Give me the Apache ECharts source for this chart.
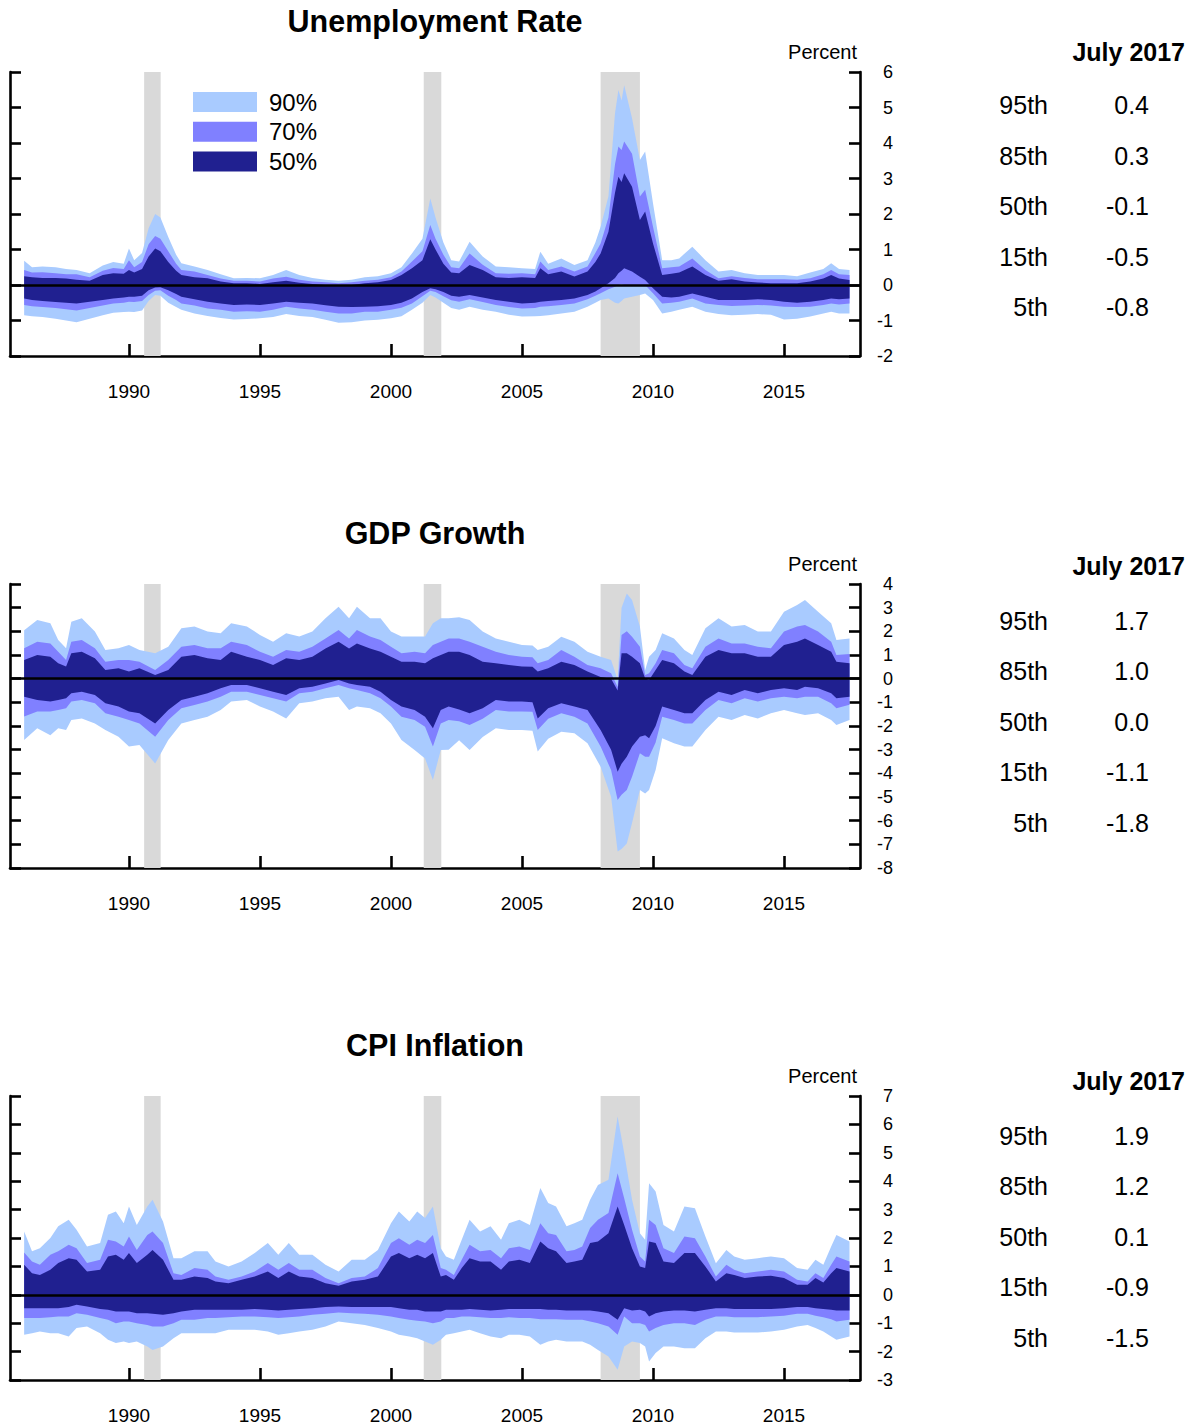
<!DOCTYPE html>
<html><head><meta charset="utf-8">
<script src="https://cdn.jsdelivr.net/npm/echarts@6/dist/echarts.min.js"></script>
<style>html,body{margin:0;padding:0;background:#fff}#c{width:1197px;height:1427px}</style>
</head><body><div id="c"></div>
<script>
const FONT = '"Liberation Sans", Arial, Helvetica, sans-serif';
const recessions = [[1990.58, 1991.21], [2001.25, 2001.92], [2008.0, 2009.5]];
const yearTicks = [1990, 1995, 2000, 2005, 2010, 2015];
const bandNames = ['90%', '70%', '50%'];
const panelTitles = ['Unemployment Rate', 'GDP Growth', 'CPI Inflation'];
const tableHeader = 'July 2017';
const pctLabels = ['95th', '85th', '50th', '15th', '5th'];
const unempTable = ['0.4', '0.3', '-0.1', '-0.5', '-0.8'];
const gdpTable = ['1.7', '1.0', '0.0', '-1.1', '-1.8'];
const cpiTable = ['1.9', '1.2', '0.1', '-0.9', '-1.5'];
const yRanges = [[-2, 6], [-8, 4], [-3, 7]];

// Unemployment rate percentiles
const unempYears = [1986.0,1986.3,1986.7,1987.2,1987.6,1988.0,1988.5,1989.0,1989.4,1989.8,1990.0,1990.2,1990.5,1990.75,1991.0,1991.2,1991.5,1991.8,1992.0,1992.5,1993.0,1993.5,1994.0,1994.5,1995.0,1995.5,1996.0,1996.5,1997.0,1997.5,1998.0,1998.5,1999.0,1999.5,2000.0,2000.4,2000.8,2001.2,2001.5,2001.7,2002.0,2002.3,2002.6,2003.0,2003.5,2004.0,2004.5,2005.0,2005.5,2005.7,2006.0,2006.5,2007.0,2007.5,2007.8,2008.0,2008.3,2008.55,2008.68,2008.8,2008.9,2009.2,2009.5,2009.7,2010.0,2010.35,2010.7,2011.0,2011.5,2012.0,2012.5,2013.0,2013.5,2014.0,2014.5,2015.0,2015.5,2016.0,2016.5,2016.8,2017.1,2017.5];
const unempP95 = [0.68,0.5,0.52,0.5,0.45,0.42,0.33,0.55,0.65,0.6,1.03,0.7,0.9,1.6,2.0,1.9,1.35,0.85,0.61,0.52,0.42,0.3,0.19,0.2,0.19,0.28,0.42,0.28,0.2,0.15,0.12,0.15,0.22,0.25,0.33,0.5,0.89,1.3,2.44,1.9,1.2,0.7,0.66,1.22,0.8,0.52,0.5,0.47,0.45,0.94,0.6,0.75,0.56,0.7,1.2,1.64,2.5,4.84,5.49,5.2,5.63,4.7,3.52,3.76,2.3,0.7,0.7,0.75,1.08,0.7,0.38,0.42,0.33,0.28,0.28,0.28,0.25,0.35,0.45,0.61,0.45,0.42];
const unempP85 = [0.42,0.35,0.36,0.33,0.3,0.3,0.22,0.4,0.48,0.45,0.7,0.5,0.65,1.15,1.38,1.3,0.95,0.6,0.42,0.38,0.28,0.18,0.12,0.12,0.1,0.18,0.23,0.15,0.1,0.08,0.05,0.08,0.12,0.15,0.22,0.38,0.66,0.95,1.69,1.3,0.85,0.5,0.47,0.89,0.57,0.33,0.32,0.33,0.3,0.66,0.42,0.52,0.38,0.52,0.9,1.17,1.9,3.4,3.9,3.8,4.04,3.7,2.49,2.68,1.64,0.47,0.5,0.52,0.75,0.42,0.19,0.25,0.2,0.16,0.16,0.16,0.15,0.19,0.3,0.42,0.3,0.28];
const unempP75 = [0.25,0.22,0.2,0.2,0.18,0.15,0.12,0.28,0.33,0.32,0.42,0.35,0.45,0.8,1.03,0.95,0.65,0.4,0.28,0.22,0.19,0.1,0.05,0.05,0.03,0.08,0.12,0.06,0.03,0.0,-0.03,0.0,0.05,0.08,0.14,0.28,0.47,0.7,1.29,1.0,0.6,0.35,0.33,0.56,0.42,0.22,0.2,0.22,0.2,0.47,0.3,0.38,0.24,0.38,0.65,0.89,1.5,2.6,3.05,2.9,3.15,2.77,1.83,2.07,1.17,0.28,0.32,0.35,0.52,0.28,0.12,0.16,0.1,0.07,0.05,0.05,0.05,0.1,0.18,0.28,0.18,0.14];
const unempP25 = [-0.38,-0.42,-0.45,-0.48,-0.5,-0.52,-0.47,-0.42,-0.38,-0.35,-0.33,-0.33,-0.3,-0.15,-0.07,-0.06,-0.15,-0.25,-0.33,-0.4,-0.47,-0.52,-0.56,-0.55,-0.56,-0.52,-0.47,-0.5,-0.52,-0.57,-0.61,-0.62,-0.61,-0.6,-0.56,-0.5,-0.38,-0.2,-0.09,-0.12,-0.2,-0.3,-0.33,-0.28,-0.35,-0.42,-0.47,-0.52,-0.5,-0.47,-0.45,-0.42,-0.38,-0.28,-0.18,-0.09,0.05,0.2,0.33,0.4,0.47,0.38,0.23,0.14,-0.09,-0.33,-0.35,-0.33,-0.24,-0.33,-0.42,-0.42,-0.42,-0.4,-0.42,-0.47,-0.5,-0.47,-0.42,-0.38,-0.4,-0.38];
const unempP15 = [-0.56,-0.6,-0.62,-0.65,-0.68,-0.72,-0.65,-0.58,-0.52,-0.5,-0.47,-0.48,-0.45,-0.28,-0.16,-0.15,-0.3,-0.42,-0.52,-0.58,-0.66,-0.7,-0.75,-0.74,-0.75,-0.7,-0.61,-0.66,-0.7,-0.75,-0.8,-0.8,-0.75,-0.75,-0.7,-0.64,-0.52,-0.32,-0.16,-0.2,-0.32,-0.43,-0.47,-0.4,-0.48,-0.56,-0.62,-0.66,-0.65,-0.61,-0.6,-0.56,-0.52,-0.4,-0.3,-0.23,-0.12,-0.05,0.0,0.02,0.0,-0.03,0.0,0.0,-0.23,-0.52,-0.5,-0.47,-0.38,-0.52,-0.56,-0.59,-0.58,-0.56,-0.58,-0.61,-0.62,-0.61,-0.56,-0.52,-0.55,-0.52];
const unempP5 = [-0.85,-0.88,-0.9,-0.95,-1.0,-1.05,-0.95,-0.85,-0.78,-0.76,-0.75,-0.76,-0.72,-0.45,-0.28,-0.3,-0.5,-0.62,-0.7,-0.8,-0.87,-0.93,-0.97,-0.96,-0.94,-0.9,-0.82,-0.87,-0.9,-0.98,-1.06,-1.05,-1.0,-0.98,-0.94,-0.88,-0.7,-0.5,-0.28,-0.35,-0.5,-0.65,-0.7,-0.61,-0.7,-0.75,-0.84,-0.89,-0.88,-0.87,-0.85,-0.8,-0.75,-0.61,-0.5,-0.42,-0.38,-0.5,-0.52,-0.45,-0.38,-0.33,-0.28,-0.24,-0.42,-0.8,-0.75,-0.7,-0.61,-0.75,-0.82,-0.85,-0.84,-0.82,-0.84,-0.97,-0.95,-0.89,-0.8,-0.75,-0.8,-0.8];

// GDP growth percentiles
const gdpYears = [1986.0,1986.5,1987.0,1987.3,1987.6,1987.8,1988.2,1988.7,1989.1,1989.6,1990.0,1990.4,1991.0,1991.5,1992.0,1992.5,1993.0,1993.5,1993.9,1994.5,1995.0,1995.5,1996.0,1996.5,1997.0,1997.5,1998.0,1998.4,1998.7,1999.2,1999.6,2000.0,2000.4,2000.9,2001.3,2001.6,2001.9,2002.2,2002.6,2003.0,2003.5,2004.0,2004.5,2005.0,2005.4,2005.6,2006.0,2006.5,2007.0,2007.5,2008.0,2008.4,2008.65,2008.8,2009.0,2009.2,2009.5,2009.7,2009.85,2010.1,2010.35,2010.8,2011.2,2011.5,2012.0,2012.5,2013.0,2013.5,2014.0,2014.5,2015.0,2015.5,2015.8,2016.3,2016.8,2017.0,2017.5];
const gdpP95 = [2.05,2.48,2.34,1.63,1.28,2.41,2.55,1.99,1.21,1.28,1.42,1.21,1.07,1.35,2.13,2.2,1.99,1.92,2.34,2.2,1.85,1.56,1.92,1.78,1.99,2.55,3.04,2.55,3.04,2.55,2.55,1.99,1.78,1.78,1.78,2.34,2.55,2.55,2.6,2.48,1.99,1.7,1.56,1.42,1.4,1.21,1.35,1.77,1.56,1.14,0.93,0.79,-0.05,3.0,3.6,3.32,2.2,0.37,0.93,1.21,1.92,1.7,1.21,1.0,2.13,2.55,2.2,2.27,1.99,1.99,2.83,3.11,3.32,2.83,2.34,1.63,1.7];
const gdpP85 = [1.28,1.56,1.49,1.14,0.79,1.56,1.63,1.28,0.72,0.79,0.79,0.72,0.37,0.79,1.35,1.42,1.28,1.28,1.56,1.42,1.14,0.93,1.21,1.14,1.35,1.7,2.06,1.7,2.06,1.78,1.63,1.35,1.07,1.14,1.07,1.42,1.56,1.7,1.7,1.56,1.35,1.14,1.0,0.93,0.9,0.65,0.79,1.21,0.93,0.58,0.44,0.23,-0.35,1.85,2.0,1.77,1.35,0.15,0.23,0.65,1.21,1.07,0.58,0.44,1.35,1.7,1.49,1.49,1.35,1.28,1.99,2.2,2.27,1.99,1.56,1.0,1.04];
const gdpP75 = [0.79,1.0,0.93,0.65,0.51,1.07,1.14,0.86,0.37,0.44,0.3,0.44,0.15,0.37,0.93,1.0,0.86,0.79,1.14,0.93,0.79,0.58,0.86,0.79,0.93,1.27,1.56,1.27,1.49,1.27,1.14,0.93,0.72,0.72,0.65,0.86,1.0,1.14,1.14,1.0,0.72,0.65,0.58,0.51,0.5,0.3,0.44,0.72,0.58,0.3,0.07,0.0,-0.5,1.07,1.07,0.93,0.65,0.01,-0.06,0.37,0.79,0.65,0.3,0.15,0.93,1.21,1.07,1.07,0.93,0.93,1.42,1.56,1.7,1.42,1.14,0.72,0.65];
const gdpP25 = [-0.76,-0.9,-0.97,-0.9,-0.83,-0.62,-0.55,-0.69,-1.04,-1.18,-1.39,-1.46,-1.89,-1.32,-0.9,-0.76,-0.62,-0.41,-0.27,-0.27,-0.41,-0.55,-0.69,-0.41,-0.34,-0.2,-0.06,-0.2,-0.27,-0.34,-0.55,-0.9,-1.18,-1.32,-1.61,-2.1,-1.32,-1.18,-1.3,-1.46,-1.25,-0.9,-0.97,-0.97,-1.0,-1.68,-1.25,-1.04,-1.18,-1.32,-2.17,-3.0,-3.93,-3.6,-3.3,-2.87,-2.45,-2.39,-2.52,-2.0,-1.18,-1.32,-1.46,-1.46,-0.9,-0.55,-0.69,-0.48,-0.62,-0.48,-0.41,-0.48,-0.34,-0.41,-0.62,-0.83,-0.76];
const gdpP15 = [-1.6,-1.39,-1.39,-1.32,-1.25,-0.97,-0.9,-1.04,-1.46,-1.61,-1.75,-1.89,-2.45,-1.75,-1.25,-1.11,-0.97,-0.76,-0.55,-0.55,-0.69,-0.83,-0.97,-0.62,-0.55,-0.41,-0.27,-0.41,-0.48,-0.62,-0.83,-1.18,-1.61,-1.75,-2.03,-2.87,-1.89,-1.75,-1.8,-1.96,-1.69,-1.32,-1.39,-1.39,-1.4,-2.17,-1.69,-1.46,-1.61,-1.89,-2.87,-3.86,-5.13,-4.9,-4.7,-4.14,-3.15,-3.3,-3.3,-2.7,-1.61,-1.75,-1.89,-1.89,-1.32,-0.9,-1.04,-0.83,-0.97,-0.83,-0.76,-0.83,-0.76,-0.76,-1.04,-1.25,-1.1];
const gdpP5 = [-2.59,-2.1,-2.39,-2.1,-2.17,-1.75,-1.68,-1.89,-2.17,-2.45,-2.87,-2.8,-3.58,-2.59,-1.89,-1.75,-1.61,-1.32,-0.97,-0.9,-1.18,-1.39,-1.68,-1.04,-0.97,-0.83,-0.76,-1.32,-1.18,-1.25,-1.46,-1.89,-2.59,-3.01,-3.37,-4.28,-3.01,-3.0,-2.6,-3.01,-2.46,-2.1,-2.17,-2.17,-2.2,-3.08,-2.54,-2.24,-2.31,-2.73,-3.72,-4.99,-7.3,-7.2,-6.96,-6.1,-4.7,-4.85,-4.7,-3.86,-2.52,-2.73,-2.87,-2.87,-2.17,-1.61,-1.75,-1.54,-1.68,-1.46,-1.32,-1.46,-1.54,-1.46,-1.75,-1.96,-1.75];

// CPI inflation percentiles
const cpiYears = [1986.0,1986.3,1986.6,1987.0,1987.3,1987.7,1988.0,1988.4,1988.9,1989.2,1989.5,1989.8,1990.0,1990.3,1990.7,1990.9,1991.3,1991.7,1992.0,1992.5,1993.0,1993.3,1993.8,1994.3,1994.8,1995.3,1995.7,1996.1,1996.5,1997.0,1997.5,1998.0,1998.5,1999.0,1999.5,2000.0,2000.3,2000.7,2001.0,2001.3,2001.6,2001.9,2002.1,2002.4,2002.7,2003.0,2003.4,2003.8,2004.2,2004.5,2004.9,2005.3,2005.7,2006.0,2006.3,2006.7,2007.0,2007.3,2007.6,2007.9,2008.3,2008.65,2008.9,2009.2,2009.5,2009.7,2009.85,2010.1,2010.4,2010.8,2011.2,2011.6,2012.0,2012.4,2012.8,2013.1,2013.5,2014.0,2014.5,2015.0,2015.5,2015.9,2016.2,2016.5,2016.8,2017.0,2017.5];
const cpiP95 = [2.23,1.53,1.64,2.0,2.41,2.64,2.29,1.7,1.82,2.82,2.93,2.52,3.11,2.46,3.11,3.35,2.58,1.29,1.29,1.53,1.53,1.17,1.0,1.17,1.47,1.82,1.41,1.82,1.41,1.41,1.06,0.82,1.23,1.23,1.58,2.52,2.93,2.58,2.93,2.7,3.11,1.64,1.35,1.23,1.94,2.64,2.23,2.41,1.94,2.52,2.64,2.46,3.76,3.23,3.11,2.41,2.52,2.64,3.35,3.87,4.05,6.28,4.99,3.35,2.17,1.94,3.93,3.64,2.46,2.23,3.11,3.05,2.05,1.11,1.58,1.35,1.23,1.29,1.35,1.29,0.94,0.88,1.23,1.06,1.7,2.11,1.88];
const cpiP85 = [1.49,1.17,1.06,1.41,1.53,1.76,1.64,1.12,1.23,1.94,1.88,1.7,2.05,1.58,2.11,2.23,1.82,0.76,0.7,0.94,0.88,0.64,0.53,0.64,0.82,1.12,0.88,1.12,0.88,0.88,0.59,0.41,0.59,0.64,0.94,1.82,1.99,1.76,1.94,1.82,2.11,0.94,0.88,0.7,1.23,1.76,1.53,1.58,1.29,1.64,1.7,1.58,2.52,2.17,2.11,1.53,1.58,1.7,2.35,2.64,2.88,4.28,3.4,2.29,1.35,1.17,2.64,2.46,1.64,1.47,2.05,1.99,1.35,0.64,1.06,0.88,0.76,0.82,0.88,0.82,0.53,0.47,0.76,0.59,1.06,1.35,1.17];
const cpiP75 = [1.06,0.76,0.7,0.88,1.12,1.29,1.23,0.82,0.88,1.35,1.41,1.23,1.47,1.12,1.41,1.58,1.23,0.53,0.53,0.64,0.59,0.47,0.41,0.53,0.64,0.82,0.59,0.82,0.64,0.59,0.41,0.32,0.47,0.53,0.64,1.35,1.47,1.29,1.41,1.29,1.47,0.64,0.7,0.53,0.94,1.29,1.17,1.17,0.88,1.17,1.23,1.12,1.88,1.64,1.53,1.12,1.17,1.23,1.82,1.88,2.17,3.11,2.46,1.64,1.0,0.94,1.88,1.82,1.17,1.12,1.47,1.47,1.0,0.47,0.76,0.7,0.59,0.64,0.67,0.59,0.35,0.35,0.59,0.43,0.76,0.94,0.82];
const cpiP25 = [-0.47,-0.47,-0.47,-0.47,-0.47,-0.43,-0.35,-0.41,-0.5,-0.53,-0.59,-0.59,-0.59,-0.65,-0.65,-0.67,-0.7,-0.65,-0.59,-0.53,-0.53,-0.53,-0.53,-0.53,-0.5,-0.53,-0.55,-0.53,-0.5,-0.47,-0.43,-0.41,-0.43,-0.43,-0.43,-0.43,-0.47,-0.53,-0.53,-0.59,-0.59,-0.59,-0.53,-0.53,-0.53,-0.5,-0.53,-0.55,-0.53,-0.5,-0.5,-0.5,-0.5,-0.53,-0.53,-0.55,-0.55,-0.55,-0.55,-0.59,-0.65,-0.88,-0.47,-0.55,-0.53,-0.59,-0.76,-0.65,-0.59,-0.55,-0.55,-0.59,-0.53,-0.47,-0.47,-0.5,-0.5,-0.5,-0.5,-0.47,-0.43,-0.43,-0.47,-0.5,-0.53,-0.55,-0.55];
const cpiP15 = [-0.82,-0.82,-0.82,-0.79,-0.76,-0.76,-0.65,-0.7,-0.82,-0.88,-1.0,-0.94,-0.94,-1.0,-1.06,-1.12,-1.12,-1.0,-0.88,-0.88,-0.82,-0.82,-0.79,-0.76,-0.76,-0.79,-0.82,-0.79,-0.76,-0.7,-0.67,-0.62,-0.65,-0.67,-0.7,-0.76,-0.82,-0.88,-0.91,-0.94,-1.0,-0.94,-0.82,-0.82,-0.76,-0.76,-0.79,-0.82,-0.82,-0.79,-0.82,-0.82,-0.86,-0.86,-0.86,-0.88,-0.88,-0.88,-0.94,-1.0,-1.12,-1.41,-0.76,-1.0,-1.0,-1.06,-1.29,-1.17,-1.06,-1.0,-1.0,-1.06,-0.88,-0.76,-0.76,-0.79,-0.79,-0.79,-0.76,-0.74,-0.67,-0.67,-0.74,-0.79,-0.86,-0.94,-0.88];
const cpiP5 = [-1.41,-1.35,-1.29,-1.35,-1.35,-1.47,-1.17,-1.12,-1.35,-1.58,-1.7,-1.64,-1.7,-1.64,-1.82,-1.94,-1.82,-1.53,-1.35,-1.35,-1.35,-1.35,-1.23,-1.23,-1.23,-1.29,-1.41,-1.35,-1.29,-1.23,-1.12,-0.94,-1.0,-1.06,-1.17,-1.29,-1.41,-1.47,-1.53,-1.64,-1.76,-1.58,-1.41,-1.35,-1.29,-1.23,-1.35,-1.47,-1.53,-1.41,-1.41,-1.47,-1.76,-1.64,-1.58,-1.64,-1.64,-1.64,-1.76,-1.94,-2.17,-2.64,-1.82,-1.64,-1.7,-1.82,-2.35,-2.05,-1.82,-1.82,-1.88,-1.88,-1.53,-1.29,-1.29,-1.33,-1.33,-1.33,-1.29,-1.23,-1.12,-1.06,-1.17,-1.29,-1.47,-1.58,-1.47];

const COLORS = { light: '#A9CBFF', mid: '#8080FF', dark: '#202090', rec: '#D9D9D9' };
const GRID_TOP = [72, 584, 1096];
const GRID_H = 284;
const X_MIN = 1985.46, X_MAX = 2017.9;

const panels = [
  { years: unempYears, p5: unempP5, p15: unempP15, p25: unempP25, p75: unempP75, p85: unempP85, p95: unempP95, table: unempTable },
  { years: gdpYears, p5: gdpP5, p15: gdpP15, p25: gdpP25, p75: gdpP75, p85: gdpP85, p95: gdpP95, table: gdpTable },
  { years: cpiYears, p5: cpiP5, p15: cpiP15, p25: cpiP25, p75: cpiP75, p85: cpiP85, p95: cpiP95, table: cpiTable }
];

// one filled band (lower..upper) per series, mapped through the axes with api.coord
function bandSeries(p, gi, name, lower, upper, color, extra) {
  return Object.assign({
    type: 'custom', name: name, coordinateSystem: 'cartesian2d',
    xAxisIndex: gi, yAxisIndex: gi * 2 + 1,
    silent: true, animation: false, z: 3, clip: true,
    itemStyle: { color: color },
    encode: { x: 0, y: 1 },
    data: [[p.years[0], lower[0]]],
    renderItem: function (params, api) {
      const top = p.years.map((x, i) => api.coord([x, upper[i]]));
      const bot = p.years.map((x, i) => api.coord([x, lower[i]])).reverse();
      return { type: 'polygon', shape: { points: top.concat(bot) }, style: { fill: color } };
    }
  }, extra || {});
}

const series = [];
panels.forEach((p, gi) => {
  const names = gi === 0 ? bandNames : bandNames.map(n => n + ' #' + gi);
  series.push(bandSeries(p, gi, names[0], p.p5, p.p95, COLORS.light, {
    markArea: {
      silent: true, z: 1,
      itemStyle: { color: COLORS.rec },
      data: recessions.map(r => [{ xAxis: r[0] }, { xAxis: r[1] }])
    }
  }));
  series.push(bandSeries(p, gi, names[1], p.p15, p.p85, COLORS.mid));
  series.push(bandSeries(p, gi, names[2], p.p25, p.p75, COLORS.dark, {
    markLine: {
      silent: true, z: 10, symbol: ['none', 'none'], label: { show: false },
      lineStyle: { color: '#000', width: 2.6, type: 'solid', opacity: 1 },
      data: [{ yAxis: 0 }]
    }
  }));
});

const axisLineStyle = { color: '#000', width: 2.6 };
const grids = GRID_TOP.map(t => ({ left: 10, width: 850, top: t, height: GRID_H, containLabel: false, outerBoundsMode: 'none' }));
const xAxes = [0, 1, 2].map(gi => ({
  type: 'value', gridIndex: gi, min: X_MIN, max: X_MAX,
  axisLine: { show: true, onZero: false, lineStyle: axisLineStyle },
  axisTick: { show: true, inside: true, length: 12, customValues: yearTicks, lineStyle: axisLineStyle },
  axisLabel: { show: true, customValues: yearTicks, margin: 26, fontSize: 19, color: '#000', fontFamily: FONT, formatter: v => String(v) },
  splitLine: { show: false }
}));
const yAxes = [];
[0, 1, 2].forEach(gi => {
  const r = yRanges[gi];
  yAxes.push({
    type: 'value', gridIndex: gi, position: 'left', min: r[0], max: r[1], interval: 1,
    axisLine: { show: true, onZero: false, lineStyle: axisLineStyle },
    axisTick: { show: true, inside: true, length: 11, lineStyle: axisLineStyle },
    axisLabel: { show: false }, splitLine: { show: false }
  });
  yAxes.push({
    type: 'value', gridIndex: gi, position: 'right', min: r[0], max: r[1], interval: 1,
    name: 'Percent', nameLocation: 'end', nameGap: 20,
    nameTextStyle: { fontSize: 20, color: '#000', fontFamily: FONT, align: 'right', verticalAlign: 'middle', padding: [0, 3, 0, 0] },
    axisLine: { show: true, onZero: false, lineStyle: axisLineStyle },
    axisTick: { show: true, inside: true, length: 11, lineStyle: axisLineStyle },
    axisLabel: { show: true, fontSize: 18, color: '#000', fontFamily: FONT, align: 'right', margin: 33 },
    splitLine: { show: false }
  });
});

const TITLE_Y = [21, 533, 1045];
const HEADER_Y = [52, 566, 1081];
const ROW_Y0 = [105, 620.5, 1135.5];
const ROW_STEP = 50.6;
const graphics = [];
panelTitles.forEach((t, i) => {
  graphics.push({ type: 'text', x: 435, y: TITLE_Y[i], silent: true,
    style: { text: t, fill: '#000', font: 'bold 30.5px ' + FONT, align: 'center', verticalAlign: 'middle' } });
  graphics.push({ type: 'text', x: 1185, y: HEADER_Y[i], silent: true,
    style: { text: tableHeader, fill: '#000', font: 'bold 25px ' + FONT, align: 'right', verticalAlign: 'middle' } });
  pctLabels.forEach((lab, k) => {
    const y = ROW_Y0[i] + k * ROW_STEP;
    graphics.push({ type: 'text', x: 1048, y: y, silent: true,
      style: { text: lab, fill: '#000', font: '25px ' + FONT, align: 'right', verticalAlign: 'middle' } });
    graphics.push({ type: 'text', x: 1149, y: y, silent: true,
      style: { text: panels[i].table[k], fill: '#000', font: '25px ' + FONT, align: 'right', verticalAlign: 'middle' } });
  });
});

const chart = echarts.init(document.getElementById('c'), null, { renderer: 'svg', width: 1197, height: 1427 });
chart.setOption({
  animation: false,
  backgroundColor: '#fff',
  textStyle: { fontFamily: FONT },
  grid: grids,
  xAxis: xAxes,
  yAxis: yAxes,
  legend: {
    data: bandNames, orient: 'vertical', left: 193, top: 90, padding: 0,
    itemWidth: 64, itemHeight: 20, itemGap: 5.8, icon: 'rect', selectedMode: false,
    textStyle: { fontSize: 24, color: '#000', fontFamily: FONT, padding: [0, 0, 0, 7] }
  },
  series: series,
  graphic: graphics
});
</script>
</body></html>
